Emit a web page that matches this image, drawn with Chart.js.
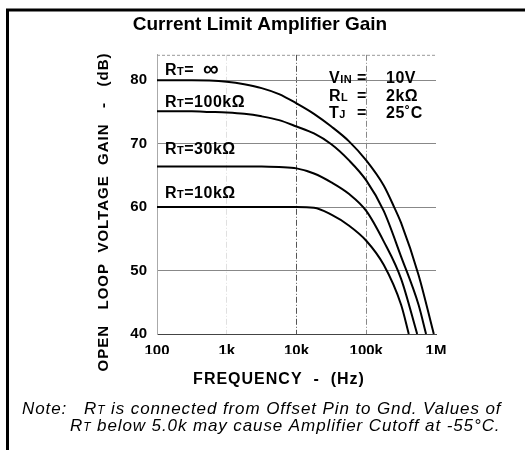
<!DOCTYPE html>
<html>
<head>
<meta charset="utf-8">
<script src="https://cdn.jsdelivr.net/npm/chart.js@4"></script>
<style>
  html, body { margin: 0; padding: 0; background: #fff; }
  #wrap { width: 525px; height: 450px; }
</style>
</head>
<body>
<div id="wrap"><canvas id="gainChart" width="525" height="450"></canvas></div>
<script>
const FONT = '"Liberation Sans", Arial, Helvetica, sans-serif';

// frequency ticks (Hz) and their labels
const freqTicks = [100, 1000, 10000, 100000, 1000000];
const freqLabels = ["100", "1k", "10k", "100k", "1M"];
const gainTicks = [40, 50, 60, 70, 80];

// curves: frequency (Hz) / gain (dB)
const freqInf = [100, 316, 562, 1000, 1780, 3160, 5620, 10000, 17800, 31600, 56200, 100000, 178000, 251000, 316000, 562000, 930000];
const gainInf = [80, 80, 79.95, 79.75, 79.35, 78.75, 77.8, 76.35, 74.7, 72.7, 70.4, 67.35, 63.4, 60, 57.5, 49.3, 40];

const freq100k = [100, 316, 562, 1000, 1780, 3160, 5620, 10000, 17800, 31600, 56200, 100000, 178000, 316000, 562000, 720000];
const gain100k = [75.1, 75.1, 75.0, 74.9, 74.7, 74.3, 73.7, 72.7, 71.6, 69.9, 67.4, 64.2, 59.4, 52.2, 44.6, 40];

const freq30k = [100, 3160, 5620, 10000, 17800, 31600, 56200, 100000, 178000, 316000, 537000];
const gain30k = [66.4, 66.4, 66.3, 66.1, 65.3, 63.9, 62.1, 59.4, 54.6, 48.7, 40];

const freq10k = [100, 10000, 17800, 31600, 56200, 100000, 178000, 316000, 407000];
const gain10k = [60, 60, 59.9, 58.8, 57.1, 54.7, 50.9, 44.6, 40];

function pts(xs, ys) {
  return xs.map((x, i) => ({ x: x, y: ys[i] }));
}

function curve(xs, ys) {
  return {
    data: pts(xs, ys),
    showLine: true,
    borderColor: "#000",
    borderWidth: 2,
    pointRadius: 0,
    cubicInterpolationMode: "monotone",
    fill: false
  };
}

// draws text made of pieces of different sizes (for the small-cap subscripts)
function runs(ctx, x, y, parts, style) {
  parts.forEach(p => {
    ctx.font = style + " " + p[1] + "px " + FONT;
    ctx.fillText(p[0], x, y);
    x += ctx.measureText(p[0]).width;
  });
  return x;
}

const decorPlugin = {
  id: "decor",
  beforeDatasetsDraw(chart) {
    const ctx = chart.ctx;
    const a = chart.chartArea;
    ctx.save();
    // dotted top edge of the plot
    ctx.strokeStyle = "#999";
    ctx.lineWidth = 1;
    ctx.setLineDash([3, 2]);
    ctx.beginPath();
    ctx.moveTo(a.left, a.top + 0.5);
    ctx.lineTo(a.right, a.top + 0.5);
    ctx.stroke();
    ctx.restore();
  },
  afterDraw(chart) {
    const ctx = chart.ctx;
    const a = chart.chartArea;
    const ys = chart.scales.y;
    ctx.save();

    // outer frame (top and left)
    ctx.strokeStyle = "#000";
    ctx.lineWidth = 3;
    ctx.beginPath();
    ctx.moveTo(525, 10);
    ctx.lineTo(7.5, 10);
    ctx.lineTo(7.5, 450);
    ctx.stroke();

    ctx.fillStyle = "#000";
    ctx.textBaseline = "alphabetic";
    ctx.textAlign = "left";

    // curve labels
    const lx = a.left + 8;
    ctx.letterSpacing = "0.5px";
    runs(ctx, lx, ys.getPixelForValue(80.8), [["R", 16], ["T", 11], ["=  ", 16]], "bold");
    ctx.font = "bold 22px " + FONT;
    ctx.fillText("\u221E", lx + 38, ys.getPixelForValue(80.8) + 1);
    runs(ctx, lx, ys.getPixelForValue(75.7), [["R", 16], ["T", 11], ["=100k\u03A9", 16]], "bold");
    runs(ctx, lx, ys.getPixelForValue(68.3), [["R", 16], ["T", 11], ["=30k\u03A9", 16]], "bold");
    runs(ctx, lx, ys.getPixelForValue(61.5), [["R", 16], ["T", 11], ["=10k\u03A9", 16]], "bold");

    // test conditions
    const cx = a.left + 172;
    const rows = [
      [["V", 16], ["IN", 11]], "=", "10V",
      [["R", 16], ["L", 11]], "=", "2k\u03A9",
      [["T", 16], ["J", 11]], "=", "25\u02DAC"
    ];
    const rowY = [83, 101, 118];
    for (let r = 0; r < 3; r++) {
      runs(ctx, cx, rowY[r], rows[r * 3], "bold");
      runs(ctx, cx + 28, rowY[r], [[rows[r * 3 + 1], 16]], "bold");
      runs(ctx, cx + 57, rowY[r], [[rows[r * 3 + 2], 16]], "bold");
    }
    ctx.letterSpacing = "0px";

    // y axis title (rotated)
    ctx.save();
    ctx.translate(104, 212);
    ctx.rotate(-Math.PI / 2);
    ctx.font = "bold 15px " + FONT;
    ctx.letterSpacing = "1px";
    ctx.textAlign = "center";
    ctx.textBaseline = "middle";
    ctx.fillText("OPEN   LOOP  VOLTAGE  GAIN   -   (dB)", 0, 0);
    ctx.restore();

    // x axis title
    ctx.save();
    ctx.font = "bold 16px " + FONT;
    ctx.letterSpacing = "1px";
    ctx.textAlign = "center";
    ctx.textBaseline = "middle";
    ctx.fillText("FREQUENCY  -  (Hz)", 279, 380);
    ctx.restore();

    // note below the chart
    ctx.letterSpacing = "0.9px";
    runs(ctx, 22, 414, [["Note:   R", 17], ["T", 12], [" is connected from Offset Pin to Gnd. Values of", 17]], "italic");
    runs(ctx, 70, 431, [["R", 17], ["T", 12], [" below 5.0k may cause Amplifier Cutoff at -55\u00B0C.", 17]], "italic");

    ctx.restore();
  }
};

new Chart("gainChart", {
  type: "scatter",
  data: {
    datasets: [
      curve(freqInf, gainInf),
      curve(freq100k, gain100k),
      curve(freq30k, gain30k),
      curve(freq10k, gain10k)
    ]
  },
  options: {
    responsive: false,
    animation: false,
    layout: { padding: { left: 84, right: 89, top: 0, bottom: 96 } },
    plugins: {
      legend: { display: false },
      tooltip: { enabled: false },
      title: {
        display: true,
        text: "Current Limit Amplifier Gain",
        color: "#000",
        font: { family: FONT, size: 19, weight: "bold" },
        padding: { top: 13, bottom: 19 }
      }
    },
    scales: {
      x: {
        type: "logarithmic",
        min: 100,
        max: 1000000,
        afterBuildTicks: s => { s.ticks = freqTicks.map(v => ({ value: v })); },
        afterFit: s => { s.height = 20; },
        ticks: {
          color: "#000",
          padding: 8,
          maxRotation: 0,
          autoSkip: false,
          font: { family: FONT, size: 15, weight: "bold" },
          callback: (v) => freqLabels[freqTicks.indexOf(v)]
        },
        grid: {
          drawTicks: false,
          color: c => ["#aaa", "rgba(0,0,0,0.12)", "#555", "#888", "rgba(0,0,0,0)"][c.index] || "#aaa"
        },
        border: { display: true, color: "#444", dash: [6, 2, 1, 2] }
      },
      y: {
        min: 40,
        max: 84,
        afterBuildTicks: s => { s.ticks = gainTicks.map(v => ({ value: v })); },
        afterFit: s => { s.width = 73; },
        ticks: {
          color: "#000",
          padding: 10,
          font: { family: FONT, size: 15, weight: "bold" }
        },
        grid: {
          drawTicks: false,
          color: c => (c.tick && c.tick.value === 40) ? "#333" : "#888"
        },
        border: { display: true, color: "#aaa" }
      }
    }
  },
  plugins: [decorPlugin]
});
</script>
</body>
</html>
